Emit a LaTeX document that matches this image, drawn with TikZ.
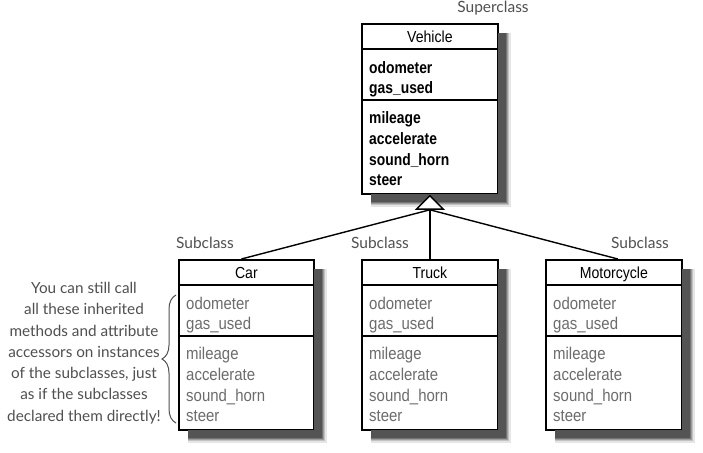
\documentclass[tikz,border=0pt]{standalone}
\usepackage{fontspec}
\setmainfont{Liberation Sans}
\newfontfamily\umlfont[FakeStretch=0.88]{Liberation Sans}
\newfontfamily\umlboldfont[FakeStretch=0.84]{Liberation Sans}
\newfontfamily\handfont{Lato}
\usetikzlibrary{calc,arrows.meta,decorations.pathreplacing}
\definecolor{membergray}{RGB}{108,108,108}
\definecolor{notegray}{RGB}{80,80,80}
\definecolor{shcore}{gray}{0.33}
\definecolor{shedgea}{gray}{0.46}
\definecolor{shedgeb}{gray}{0.61}
\definecolor{shedgec}{gray}{0.76}
\definecolor{shedged}{gray}{0.90}
\tikzset{
  classbox/.style={draw=black, line width=1.8pt, fill=white, rectangle, inner sep=0pt,
    minimum height=170pt, anchor=north west},
  titletext/.style={font=\umlfont\fontsize{16}{18}\selectfont, anchor=base, inner sep=0pt},
  supermember/.style={font=\umlboldfont\fontsize{16.5}{18}\selectfont\bfseries, anchor=base west, inner sep=0pt, text=black},
  submember/.style={font=\umlfont\fontsize{17}{18}\selectfont, anchor=base west, inner sep=0pt, text=membergray},
  note/.style={font=\handfont\fontsize{15.5}{17}\selectfont, text=notegray, inner sep=0pt, anchor=base},
  conn/.style={line width=1.4pt, draw=black},
  shadowband/.style={line join=miter, line cap=butt},
}
% shadow band: #1 left, #2 top, #3 width, #4 distance from box edge, #5 line width, #6 colour
\newcommand{\shband}[6]{%
  \draw[shadowband, draw=#6, line width=#5pt]
    (#1+#3+0.9+#4, #2+10) -- (#1+#3+0.9+#4, #2+170.9+#4) -- (#1+10, #2+170.9+#4);
}
% #1 name, #2 left, #3 top, #4 width, #5 title, #6 member style
\newcommand{\umlclass}[6]{%
  \node[classbox, minimum width=#4] (#1) at (#2,#3) {};
  \shband{#2}{#3}{#4}{4}{8}{shcore}%
  \shband{#2}{#3}{#4}{8.6}{1.3}{shedgea}%
  \shband{#2}{#3}{#4}{9.8}{1.3}{shedgeb}%
  \shband{#2}{#3}{#4}{11}{1.3}{shedgec}%
  \shband{#2}{#3}{#4}{12.2}{1.3}{shedged}%
  \draw[line width=2.4pt] ($(#1.north west)+(0.9,26)$) -- ($(#1.north east)+(-0.9,26)$);
  \draw[line width=1.8pt] ($(#1.north west)+(0.9,77)$) -- ($(#1.north east)+(-0.9,77)$);
  \node[titletext] (#1-title) at ($(#1.north)+(0,19)$) {#5};
  \node[#6] (#1-a1) at ($(#1.north west)+(8,50)$) {odometer};
  \node[#6] (#1-a2) at ($(#1.north west)+(8,70)$) {gas\_used};
  \node[#6] (#1-m1) at ($(#1.north west)+(8,100)$) {mileage};
  \node[#6] (#1-m2) at ($(#1.north west)+(8,121)$) {accelerate};
  \node[#6] (#1-m3) at ($(#1.north west)+(8,142)$) {sound\_horn};
  \node[#6] (#1-m4) at ($(#1.north west)+(8,162)$) {steer};
}
\begin{document}
\begin{tikzpicture}[x=1pt, y=-1pt]
\useasboundingbox (0,0) rectangle (703,452);
\fill[white] (0,0) rectangle (703,452);

\umlclass{veh}{361}{23}{136}{Vehicle}{supermember}
\umlclass{car}{178}{259}{135}{Car}{submember}
\umlclass{truck}{361}{259}{136}{Truck}{submember}
\umlclass{moto}{545}{259}{136}{Motorcycle}{submember}

% inheritance connectors
\coordinate (tri) at ($(veh.south)+(0,15)$);
\draw[conn] (car.north) ++(-5,0) coordinate (carTop) -- (tri);
\draw[conn] (moto.north) ++(4,0) coordinate (motoTop) -- (tri);
\draw[conn, -{Triangle[open, fill=white, width=30pt, length=15pt, line width=1.4pt]}] (truck.north) -- (veh.south);

% labels
\node[note] (superlbl) at (493,13) {Superclass};
\node[note] (carlbl) at (205,248) {Subclass};
\node[note] (trucklbl) at (380,248) {Subclass};
\node[note] (motolbl) at (640,248) {Subclass};

% annotation
\node[note, anchor=north, align=center, font=\handfont\fontsize{15.3}{21.3}\selectfont] (annot) at (84,282)
  {You can still call\\all these inherited\\methods and attribute\\accessors on instances\\of the subclasses, just\\as if the subclasses\\declared them directly!};
\coordinate (braceTop) at (176,295);
\coordinate (braceBot) at (176,423);
\draw[notegray, line width=1pt, decorate, decoration={brace, amplitude=14pt}] (braceBot) -- (braceTop);
\end{tikzpicture}
\end{document}
